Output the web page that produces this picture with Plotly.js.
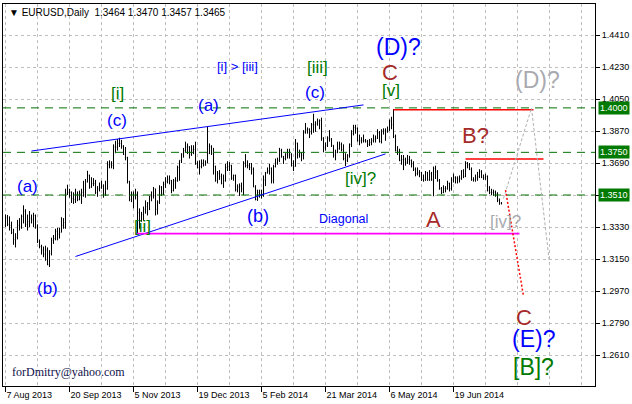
<!DOCTYPE html>
<html><head><meta charset="utf-8">
<script src="https://cdn.plot.ly/plotly-3.0.1.min.js"></script>
<style>html,body{margin:0;padding:0;background:#fff;}#chart{width:632px;height:404px;}</style>
</head><body><div id="chart"></div>
<script>
// ---------------- data ----------------
const symbol = 'EURUSD,Daily';
const lastQuote = [1.3464, 1.3470, 1.3457, 1.3465];
const dateLabels = ['7 Aug 2013','20 Sep 2013','5 Nov 2013','19 Dec 2013','5 Feb 2014','21 Mar 2014','6 May 2014','19 Jun 2014'];
const dateLabelBars = [0,32,64,96,128,160,192,224];
const priceTicks = [1.2610,1.2790,1.2970,1.3150,1.3330,1.3510,1.3690,1.3870,1.4050,1.4230,1.4410];
const levels = [1.4000,1.3750,1.3510];

const open = [
1.3340,1.3385,1.3345,1.3340,1.3300,1.3260,1.3270,1.3340,1.3330,1.3390,
1.3420,1.3345,1.3360,1.3380,1.3370,1.3395,1.3330,1.3250,1.3220,1.3200,
1.3175,1.3200,1.3120,1.3180,1.3255,1.3265,1.3305,1.3290,1.3300,1.3340,
1.3355,1.3520,1.3525,1.3525,1.3490,1.3485,1.3515,1.3485,1.3520,1.3525,
1.3510,1.3585,1.3620,1.3555,1.3575,1.3575,1.3525,1.3545,1.3550,1.3560,
1.3520,1.3545,1.3680,1.3685,1.3675,1.3780,1.3780,1.3800,1.3800,1.3785,
1.3740,1.3720,1.3585,1.3485,1.3515,1.3505,1.3515,1.3410,1.3365,1.3400,
1.3430,1.3445,1.3465,1.3500,1.3505,1.3545,1.3430,1.3470,1.3555,1.3520,
1.3570,1.3585,1.3600,1.3590,1.3535,1.3590,1.3590,1.3665,1.3705,1.3740,
1.3760,1.3780,1.3780,1.3740,1.3765,1.3765,1.3685,1.3665,1.3670,1.3690,
1.3680,1.3690,1.3745,1.3780,1.3745,1.3670,1.3590,1.3630,1.3615,1.3575,
1.3590,1.3665,1.3670,1.3675,1.3605,1.3620,1.3540,1.3555,1.3560,1.3545,
1.3690,1.3675,1.3675,1.3665,1.3655,1.3555,1.3485,1.3525,1.3515,1.3515,
1.3595,1.3635,1.3645,1.3660,1.3590,1.3670,1.3690,1.3705,1.3760,1.3725,
1.3715,1.3740,1.3735,1.3740,1.3675,1.3670,1.3800,1.3735,1.3745,1.3735,
1.3860,1.3875,1.3880,1.3865,1.3905,1.3905,1.3910,1.3925,1.3930,1.3830,
1.3775,1.3790,1.3830,1.3825,1.3790,1.3735,1.3750,1.3770,1.3795,1.3765,
1.3715,1.3705,1.3730,1.3795,1.3855,1.3890,1.3885,1.3815,1.3815,1.3815,
1.3815,1.3810,1.3795,1.3805,1.3815,1.3825,1.3830,1.3860,1.3810,1.3870,
1.3870,1.3870,1.3875,1.3925,1.3905,1.3840,1.3760,1.3755,1.3705,1.3710,
1.3710,1.3695,1.3710,1.3705,1.3685,1.3655,1.3630,1.3635,1.3635,1.3595,
1.3595,1.3635,1.3595,1.3630,1.3595,1.3660,1.3640,1.3590,1.3545,1.3525,
1.3545,1.3545,1.3575,1.3545,1.3595,1.3610,1.3605,1.3600,1.3605,1.3645,
1.3615,1.3690,1.3680,1.3655,1.3595,1.3595,1.3605,1.3615,1.3640,1.3610,
1.3605,1.3615,1.3535,1.3525,1.3525,1.3525,1.3520,1.3480,1.3464];

const high = [
1.3400,1.3398,1.3390,1.3360,1.3320,1.3295,1.3370,1.3380,1.3400,1.3452,
1.3430,1.3400,1.3420,1.3400,1.3410,1.3400,1.3345,1.3260,1.3230,1.3220,
1.3225,1.3215,1.3200,1.3270,1.3285,1.3320,1.3325,1.3325,1.3385,1.3380,
1.3545,1.3568,1.3545,1.3530,1.3525,1.3545,1.3530,1.3535,1.3545,1.3590,
1.3600,1.3646,1.3625,1.3610,1.3605,1.3595,1.3560,1.3580,1.3590,1.3570,
1.3590,1.3700,1.3705,1.3700,1.3795,1.3815,1.3825,1.3832,1.3820,1.3790,
1.3780,1.3725,1.3590,1.3530,1.3530,1.3545,1.3530,1.3435,1.3415,1.3445,
1.3480,1.3470,1.3505,1.3530,1.3555,1.3545,1.3480,1.3565,1.3560,1.3585,
1.3610,1.3620,1.3620,1.3595,1.3600,1.3610,1.3675,1.3705,1.3745,1.3775,
1.3810,1.3800,1.3785,1.3790,1.3790,1.3810,1.3700,1.3705,1.3710,1.3710,
1.3705,1.3893,1.3800,1.3790,1.3775,1.3675,1.3645,1.3650,1.3630,1.3625,
1.3685,1.3700,1.3695,1.3680,1.3625,1.3625,1.3570,1.3575,1.3580,1.3700,
1.3740,1.3705,1.3690,1.3690,1.3665,1.3565,1.3540,1.3540,1.3540,1.3620,
1.3640,1.3665,1.3685,1.3665,1.3680,1.3715,1.3720,1.3775,1.3770,1.3730,
1.3745,1.3770,1.3770,1.3745,1.3705,1.3825,1.3805,1.3765,1.3750,1.3875,
1.3915,1.3890,1.3885,1.3915,1.3967,1.3925,1.3940,1.3935,1.3945,1.3835,
1.3805,1.3840,1.3875,1.3830,1.3790,1.3765,1.3810,1.3810,1.3805,1.3795,
1.3745,1.3740,1.3800,1.3875,1.3905,1.3905,1.3890,1.3850,1.3835,1.3850,
1.3825,1.3820,1.3825,1.3830,1.3850,1.3845,1.3880,1.3870,1.3880,1.3885,
1.3885,1.3895,1.3935,1.3950,1.3993,1.3850,1.3785,1.3770,1.3735,1.3735,
1.3720,1.3735,1.3730,1.3710,1.3700,1.3665,1.3665,1.3650,1.3640,1.3625,
1.3645,1.3640,1.3650,1.3640,1.3670,1.3675,1.3650,1.3600,1.3555,1.3565,
1.3560,1.3590,1.3580,1.3610,1.3630,1.3615,1.3615,1.3620,1.3650,1.3655,
1.3700,1.3695,1.3690,1.3665,1.3610,1.3625,1.3640,1.3655,1.3650,1.3625,
1.3630,1.3620,1.3560,1.3545,1.3540,1.3535,1.3525,1.3490,1.3470];

const low = [
1.3330,1.3335,1.3310,1.3290,1.3230,1.3215,1.3260,1.3310,1.3320,1.3350,
1.3330,1.3310,1.3330,1.3350,1.3330,1.3320,1.3240,1.3210,1.3175,1.3160,
1.3140,1.3115,1.3105,1.3170,1.3235,1.3255,1.3255,1.3265,1.3300,1.3320,
1.3320,1.3510,1.3495,1.3465,1.3460,1.3465,1.3475,1.3480,1.3460,1.3500,
1.3495,1.3580,1.3545,1.3550,1.3560,1.3515,1.3500,1.3530,1.3545,1.3495,
1.3505,1.3540,1.3660,1.3660,1.3655,1.3745,1.3760,1.3780,1.3770,1.3735,
1.3705,1.3575,1.3475,1.3470,1.3435,1.3485,1.3296,1.3320,1.3360,1.3365,
1.3405,1.3395,1.3425,1.3475,1.3490,1.3395,1.3400,1.3460,1.3505,1.3510,
1.3550,1.3575,1.3570,1.3520,1.3530,1.3545,1.3585,1.3590,1.3690,1.3720,
1.3750,1.3740,1.3715,1.3730,1.3740,1.3680,1.3660,1.3625,1.3660,1.3670,
1.3675,1.3690,1.3740,1.3735,1.3625,1.3585,1.3575,1.3595,1.3570,1.3550,
1.3585,1.3645,1.3645,1.3595,1.3590,1.3530,1.3525,1.3505,1.3525,1.3510,
1.3665,1.3660,1.3650,1.3625,1.3555,1.3480,1.3477,1.3495,1.3490,1.3500,
1.3560,1.3630,1.3625,1.3575,1.3575,1.3665,1.3680,1.3695,1.3720,1.3685,
1.3705,1.3715,1.3715,1.3670,1.3645,1.3670,1.3715,1.3720,1.3700,1.3710,
1.3855,1.3855,1.3830,1.3850,1.3860,1.3865,1.3900,1.3880,1.3815,1.3750,
1.3760,1.3780,1.3810,1.3780,1.3720,1.3705,1.3745,1.3765,1.3755,1.3705,
1.3673,1.3695,1.3720,1.3780,1.3845,1.3855,1.3810,1.3790,1.3800,1.3805,
1.3805,1.3780,1.3785,1.3790,1.3805,1.3805,1.3825,1.3805,1.3800,1.3850,
1.3815,1.3860,1.3870,1.3880,1.3830,1.3755,1.3735,1.3700,1.3680,1.3650,
1.3675,1.3685,1.3680,1.3665,1.3645,1.3615,1.3620,1.3610,1.3590,1.3585,
1.3590,1.3590,1.3590,1.3590,1.3503,1.3600,1.3585,1.3540,1.3515,1.3520,
1.3525,1.3540,1.3530,1.3535,1.3580,1.3575,1.3575,1.3580,1.3595,1.3605,
1.3610,1.3660,1.3650,1.3590,1.3585,1.3585,1.3590,1.3605,1.3605,1.3595,
1.3595,1.3530,1.3515,1.3510,1.3505,1.3500,1.3470,1.3455,1.3457];

const close = [
1.3385,1.3345,1.3340,1.3300,1.3260,1.3270,1.3340,1.3330,1.3390,1.3420,
1.3345,1.3360,1.3380,1.3370,1.3395,1.3330,1.3250,1.3220,1.3200,1.3175,
1.3200,1.3120,1.3180,1.3255,1.3265,1.3305,1.3290,1.3300,1.3340,1.3355,
1.3520,1.3525,1.3525,1.3490,1.3485,1.3515,1.3485,1.3520,1.3525,1.3510,
1.3585,1.3620,1.3555,1.3575,1.3575,1.3525,1.3545,1.3550,1.3560,1.3520,
1.3545,1.3680,1.3685,1.3675,1.3780,1.3780,1.3800,1.3800,1.3785,1.3740,
1.3720,1.3585,1.3485,1.3515,1.3505,1.3515,1.3410,1.3365,1.3400,1.3430,
1.3445,1.3465,1.3500,1.3505,1.3545,1.3430,1.3470,1.3555,1.3520,1.3570,
1.3585,1.3600,1.3590,1.3535,1.3590,1.3590,1.3665,1.3705,1.3740,1.3760,
1.3780,1.3780,1.3740,1.3765,1.3765,1.3685,1.3665,1.3670,1.3690,1.3680,
1.3690,1.3745,1.3780,1.3745,1.3670,1.3590,1.3630,1.3615,1.3575,1.3590,
1.3665,1.3670,1.3675,1.3605,1.3620,1.3540,1.3555,1.3560,1.3545,1.3690,
1.3675,1.3675,1.3665,1.3655,1.3555,1.3485,1.3525,1.3515,1.3515,1.3595,
1.3635,1.3645,1.3660,1.3590,1.3670,1.3690,1.3705,1.3760,1.3725,1.3715,
1.3740,1.3735,1.3740,1.3675,1.3670,1.3800,1.3735,1.3745,1.3735,1.3860,
1.3875,1.3880,1.3865,1.3905,1.3905,1.3910,1.3925,1.3930,1.3830,1.3775,
1.3790,1.3830,1.3825,1.3790,1.3735,1.3750,1.3770,1.3795,1.3765,1.3715,
1.3705,1.3730,1.3795,1.3855,1.3890,1.3885,1.3815,1.3815,1.3815,1.3815,
1.3810,1.3795,1.3805,1.3815,1.3825,1.3830,1.3860,1.3810,1.3870,1.3870,
1.3870,1.3875,1.3925,1.3905,1.3840,1.3760,1.3755,1.3705,1.3710,1.3710,
1.3695,1.3710,1.3705,1.3685,1.3655,1.3630,1.3635,1.3635,1.3595,1.3595,
1.3635,1.3595,1.3630,1.3595,1.3660,1.3640,1.3590,1.3545,1.3525,1.3545,
1.3545,1.3575,1.3545,1.3595,1.3610,1.3605,1.3600,1.3605,1.3645,1.3615,
1.3690,1.3680,1.3655,1.3595,1.3595,1.3605,1.3615,1.3640,1.3610,1.3605,
1.3615,1.3535,1.3525,1.3525,1.3525,1.3520,1.3480,1.3465,1.3465];

// analysis levels / lines (bar index, price)
const upperLine = {bars:[13,179], prices:[1.37575,1.40168]};
const lowerLine = {bars:[35,190], prices:[1.31641,1.37412]};
const diagonalLow = {bars:[65,257], price:1.3293};
const redTop = {bars:[194,264], price:1.3990};
const redB = {bars:[230,269], price:1.3712};
const projD = {bars:[249,263,272], prices:[1.3490,1.3999,1.3128]};
const projC = {bars:[250,259], prices:[1.3538,1.2942]};

// ---------------- helpers (pixel -> data for label placement) ----------------
const PXB = 2, X0 = 5.5, PPU = 1777.8;
const bx = px => (px - X0) / PXB;
const pv = py => 1.4410 - (py - 35) / PPU;

const bars = open.map((_, i) => i);
const ymax = 1.4410 + 31 / PPU;
const ymin = ymax - 382 / PPU;

const FONT = 'Liberation Sans, Arial, sans-serif';
const BLUE = '#0000ff', GREEN = '#007a00', BROWN = '#a52a2a', GREY = '#a9a9b0';

const traces = [{
  type: 'ohlc', x: bars, open: open, high: high, low: low, close: close,
  increasing: {line: {color: '#000000', width: 1}},
  decreasing: {line: {color: '#000000', width: 1}},
  tickwidth: 0.3, hoverinfo: 'skip', showlegend: false
}];

const shapes = [];
levels.forEach(l => shapes.push({type:'line', xref:'paper', yref:'y', x0:0, x1:1, y0:l, y1:l,
  line:{color:'#007000', width:1, dash:'8px,6px'}}));
shapes.push({type:'line', xref:'x', yref:'y', x0:upperLine.bars[0], x1:upperLine.bars[1], y0:upperLine.prices[0], y1:upperLine.prices[1], line:{color:BLUE, width:1}});
shapes.push({type:'line', xref:'x', yref:'y', x0:lowerLine.bars[0], x1:lowerLine.bars[1], y0:lowerLine.prices[0], y1:lowerLine.prices[1], line:{color:BLUE, width:1}});
shapes.push({type:'line', xref:'x', yref:'y', x0:diagonalLow.bars[0], x1:diagonalLow.bars[1], y0:diagonalLow.price, y1:diagonalLow.price, line:{color:'#ff00ff', width:1.6}});
shapes.push({type:'line', xref:'x', yref:'y', x0:redTop.bars[0], x1:redTop.bars[1], y0:redTop.price, y1:redTop.price, line:{color:'#ff0000', width:1.5}});
shapes.push({type:'line', xref:'x', yref:'y', x0:redB.bars[0], x1:redB.bars[1], y0:redB.price, y1:redB.price, line:{color:'#ff0000', width:1.5}});
for (let k = 0; k < projD.bars.length - 1; k++) {
  shapes.push({type:'line', xref:'x', yref:'y', x0:projD.bars[k], x1:projD.bars[k+1], y0:projD.prices[k], y1:projD.prices[k+1], line:{color:'#b0b0b0', width:1, dash:'3px,2px'}});
}
shapes.push({type:'line', xref:'x', yref:'y', x0:projC.bars[0], x1:projC.bars[1], y0:projC.prices[0], y1:projC.prices[1], line:{color:'#ff0000', width:1.5, dash:'2px,2px'}});

// wave labels: [text, px, py, size, color]
const labels = [
  ['[i]', 117, 93, 17, GREEN],
  ['(c)', 117, 120, 17, BLUE],
  ['(a)', 27, 186, 17, BLUE],
  ['(b)', 47, 288, 17, BLUE],
  ['[ii]', 142, 226, 17, GREEN],
  ['(a)', 208, 105, 17, BLUE],
  ['[i] > [iii]', 237, 66, 13, BLUE],
  ['[iii]', 317, 67, 17, GREEN],
  ['(c)', 315, 92, 17, BLUE],
  ['(b)', 258, 216, 18, BLUE],
  ['Diagonal', 343, 219, 12.5, BLUE],
  ['[iv]?', 360, 178, 17, GREEN],
  ['(D)?', 398, 47, 23, BLUE],
  ['C', 390, 72, 22, BROWN],
  ['[v]', 391, 90, 17, GREEN],
  ['B?', 475, 135, 22, BROWN],
  ['A', 433, 219, 22, BROWN],
  ['[iv]?', 505, 221, 17, GREY],
  ['(D)?', 537, 80, 23, GREY],
  ['C', 524, 317, 22, BROWN],
  ['(E)?', 533, 339, 23, BLUE],
  ['[B]?', 533, 367, 23, GREEN]
];
const annotations = labels.map(l => ({
  text: l[0], x: bx(l[1]), y: pv(l[2]), xref:'x', yref:'y', showarrow:false,
  xanchor:'center', yanchor:'middle', font:{family:FONT, size:l[3], color:l[4]}
}));
annotations.push({text:'forDmitry@yahoo.com', x: bx(68), y: pv(372), xref:'x', yref:'y', showarrow:false,
  xanchor:'center', yanchor:'middle', font:{family:'Liberation Serif, Times New Roman, serif', size:12, color:'#10104a'}});
annotations.push({text:'\u25BC ' + symbol + '  ' + lastQuote.map(v => v.toFixed(4)).join(' '),
  x: (7-3)/592, y: 1 - (12-4)/382, xref:'paper', yref:'paper', showarrow:false,
  xanchor:'left', yanchor:'middle', font:{family:FONT, size:10, color:'#000'}});
levels.forEach(l => annotations.push({text: l.toFixed(4), x:(598-3)/592, y:l, xref:'paper', yref:'y',
  showarrow:false, xanchor:'left', yanchor:'middle', bgcolor:'#007a00', borderpad:1,
  font:{family:FONT, size:9, color:'#ffffff'}}));

const gridStyle = {gridcolor:'#c0c0c0', griddash:'3px,3px', gridwidth:1};
const layout = {
  width:632, height:404, margin:{l:3, r:37, t:4, b:18},
  paper_bgcolor:'#ffffff', plot_bgcolor:'#ffffff', showlegend:false,
  xaxis: Object.assign({
    type:'linear', range:[-1.25, 294.75], rangeslider:{visible:false},
    tickmode:'array', tickvals:dateLabelBars, ticktext:dateLabels,
    ticks:'outside', ticklen:5, tickcolor:'#000', tickwidth:1,
    ticklabelposition:'outside right',
    showgrid:true, zeroline:false, showline:true, mirror:true, linecolor:'#000', linewidth:1,
    tickfont:{family:FONT, size:9, color:'#000'},
    minor:{tickmode:'linear', tick0:0, dtick:16, showgrid:true, gridcolor:'#c0c0c0', griddash:'3px,3px', ticks:''},
    fixedrange:true
  }, gridStyle),
  yaxis: Object.assign({
    side:'right', range:[ymin, ymax], tickmode:'array', tickvals:priceTicks,
    tickformat:'.4f', ticks:'outside', ticklen:4, tickcolor:'#000',
    showgrid:true, zeroline:false, showline:true, mirror:true, linecolor:'#000', linewidth:1,
    tickfont:{family:FONT, size:9, color:'#000'}, fixedrange:true
  }, gridStyle),
  shapes: shapes,
  annotations: annotations
};
Plotly.newPlot('chart', traces, layout, {staticPlot:true, displayModeBar:false});
</script>
</body></html>
